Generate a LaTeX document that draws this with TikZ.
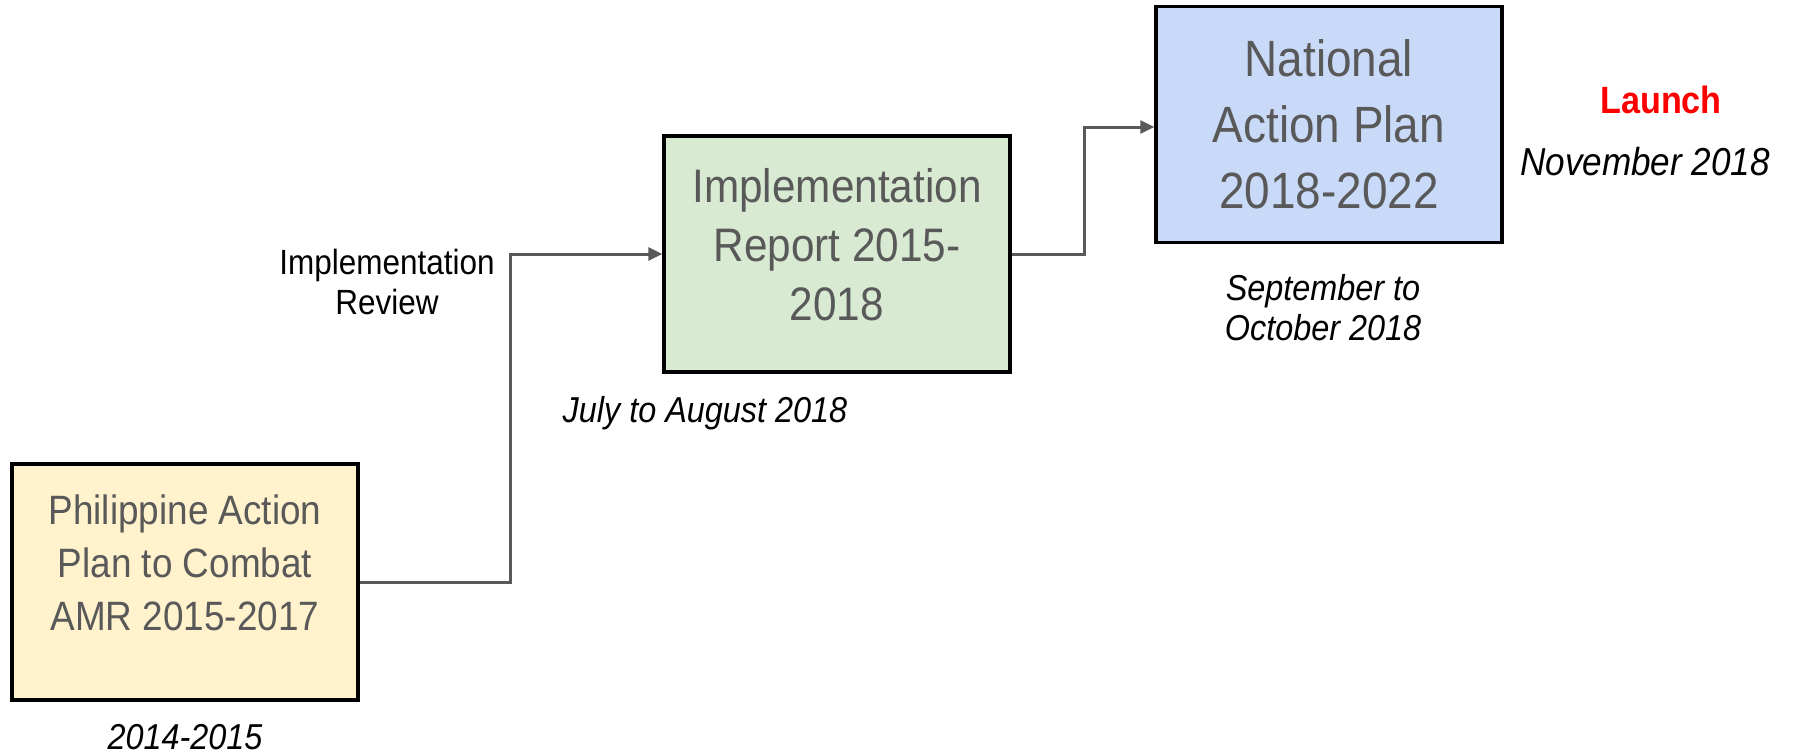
\documentclass[tikz,border=0pt]{standalone}
\usepackage{fontspec}
\setmainfont{Liberation Sans}[FakeStretch=0.9]
\usetikzlibrary{arrows.meta}

\definecolor{plangray}{HTML}{595959}
\definecolor{planyellow}{HTML}{FFF2CC}
\definecolor{plangreen}{HTML}{D9EAD3}
\definecolor{planblue}{HTML}{C9DAF8}

\tikzset{
  stagebox/.style={draw=black, line width=3.5pt, minimum width=346pt, minimum height=236pt, inner sep=0pt},
  stagetext/.style={text=plangray, align=center, inner sep=0pt},
  datetext/.style={align=center, inner sep=0pt, font=\fontsize{36}{40}\selectfont\itshape},
  link/.style={draw=plangray, line width=3pt, -{Triangle[length=14pt,width=13pt]}}
}

\begin{document}
\begin{tikzpicture}[x=1pt, y=-1pt]
  \useasboundingbox (0,0) rectangle (1794,755);

  \node [stagebox, fill=planyellow] (plan) at (185,582) {};
  \node [stagebox, fill=plangreen] (report) at (837,254) {};
  \node [stagebox, fill=planblue] (nap) at (1329,124.5) {};

  \node [stagetext, font=\fontsize{41}{53}\selectfont] (plantext) at (185,563)
    {Philippine Action\\Plan to Combat\\AMR 2015-2017};
  \node [stagetext, font=\fontsize{47}{59}\selectfont] (reporttext) at (837,245)
    {Implementation\\Report 2015-\\2018};
  \node [stagetext, font=\fontsize{51}{66}\selectfont] (naptext) at (1329,124)
    {National\\Action Plan\\2018-2022};

  \path [link] (plan.east) -- ++(151,0) |- (report.west);
  \path [link] (report.east) -- ++(73,0) |- ([yshift=-2.5pt]nap.west);

  \node [align=center, inner sep=0pt, font=\fontsize{35}{40}\selectfont] (review) at (387,282)
    {Implementation\\Review};
  \node [datetext] (plandate) at (185,737) {2014-2015};
  \node [datetext] (reportdate) at (705,413) {July to August 2018};
  \node [datetext] (napdate) at (1323,308) {September to\\October 2018};
  \node [text=red, inner sep=0pt, font=\fontsize{38}{40}\selectfont\bfseries] (launch) at (1661,100) {Launch};
  \node [datetext, font=\fontsize{39}{40}\selectfont\itshape] (launchdate) at (1645,162) {November 2018};
\end{tikzpicture}
\end{document}
